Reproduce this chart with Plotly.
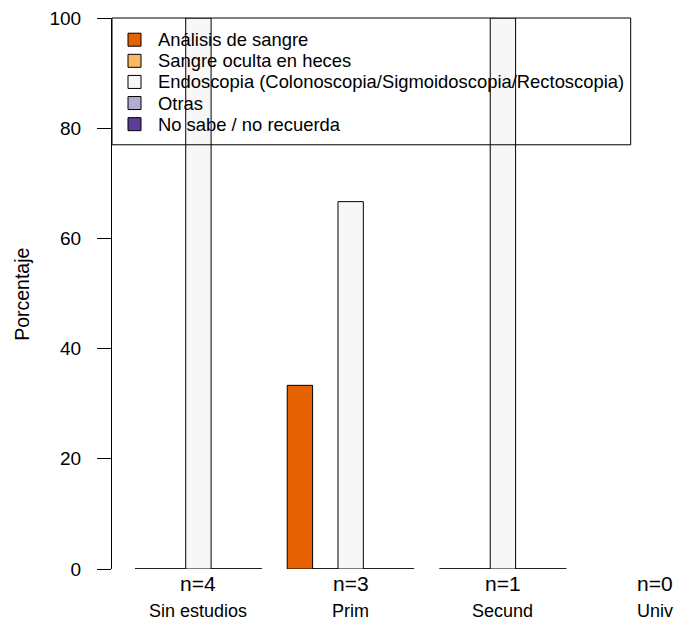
import plotly.graph_objects as go

# ---------------- data ----------------
groups = ["Sin estudios", "Prim", "Secund", "Univ"]
n_counts = [4, 3, 1, 0]
series_names = [
    "Análisis de sangre",
    "Sangre oculta en heces",
    "Endoscopia (Colonoscopia/Sigmoidoscopia/Rectoscopia)",
    "Otras",
    "No sabe / no recuerda",
]
analisis = [0, 33.33, 0, None]
sangre_oculta = [0, 0, 0, None]
endoscopia = [100, 66.67, 100, None]
otras = [0, 0, 0, None]
no_sabe = [0, 0, 0, None]
series_values = [analisis, sangre_oculta, endoscopia, otras, no_sabe]
colors = ["#E66101", "#FDB863", "#F7F7F7", "#B2ABD2", "#5E3C99"]
y_ticks = [0, 20, 40, 60, 80, 100]

# ---------------- geometry ----------------
W, H = 677, 624
ML, MR, MT, MB = 112, 0, 18.3, 55
PW = W - ML - MR
PH = H - MT - MB
UNIT = 25.375          # pixels per bar width
U0 = 109.6             # pixel of x = 0
FONT = "Liberation Sans, Arial, Helvetica, sans-serif"
nser = len(series_names)
group_span = nser + 1


def px_x(p):
    return (p - ML) / PW


def px_y(p):
    return (H - MB - p) / PH


def bar_center(g, i):
    return 1 + group_span * g + i + 0.5


fig = go.Figure()

# bars
for i, (name, vals, col) in enumerate(zip(series_names, series_values, colors)):
    fig.add_trace(go.Bar(
        x=[bar_center(g, i) for g in range(len(groups))],
        y=vals,
        width=1,
        name=name,
        marker=dict(color=col, line=dict(color="black", width=1)),
        showlegend=False,
    ))

# zero-height bars drawn as their outline on the baseline
zx, zy = [], []
for i, vals in enumerate(series_values):
    for g, v in enumerate(vals):
        if v == 0:
            c = bar_center(g, i)
            zx += [c - 0.5, c + 0.5, None]
            zy += [0, 0, None]
fig.add_trace(go.Scatter(x=zx, y=zy, mode="lines",
                         line=dict(color="black", width=1),
                         showlegend=False, hoverinfo="skip", cliponaxis=False))

annotations = []
shapes = []

# group labels
for g, (name, n) in enumerate(zip(groups, n_counts)):
    cx = 1 + group_span * g + nser / 2
    annotations.append(dict(x=cx, y=0, xref="x", yref="paper", text=f"n={n}",
                            showarrow=False, yanchor="middle", yshift=-14.5,
                            font=dict(size=21, family=FONT, color="black")))
    annotations.append(dict(x=cx, y=0, xref="x", yref="paper", text=name,
                            showarrow=False, yanchor="middle", yshift=-42,
                            font=dict(size=18, family=FONT, color="black")))

# y title
annotations.append(dict(x=px_x(22), y=px_y(295), xref="paper", yref="paper",
                        text="Porcentaje", textangle=-90, showarrow=False,
                        xanchor="center", yanchor="middle",
                        font=dict(size=19.5, family=FONT, color="black")))

# legend box
shapes.append(dict(type="rect", xref="paper", yref="paper",
                   x0=px_x(112), x1=px_x(630.7), y0=px_y(145), y1=px_y(18.3),
                   line=dict(color="black", width=1), fillcolor="rgba(0,0,0,0)",
                   layer="above"))
row0, row_step = 40, 21.1
for i, (name, col) in enumerate(zip(series_names, colors)):
    yc = row0 + i * row_step
    shapes.append(dict(type="rect", xref="paper", yref="paper",
                       x0=px_x(128), x1=px_x(141), y0=px_y(yc + 6.5), y1=px_y(yc - 6.5),
                       line=dict(color="black", width=1), fillcolor=col, layer="above"))
    annotations.append(dict(x=px_x(156), y=px_y(yc), xref="paper", yref="paper",
                            text=name, showarrow=False, xanchor="left", yanchor="middle",
                            font=dict(size=18.4, family=FONT, color="black")))

fig.update_layout(
    width=W, height=H,
    margin=dict(l=ML, r=MR, t=MT, b=MB, pad=0),
    paper_bgcolor="white", plot_bgcolor="white",
    barmode="overlay",
    showlegend=False,
    font=dict(family=FONT, color="black"),
    xaxis=dict(range=[(ML - U0) / UNIT, (W - U0) / UNIT], visible=False),
    yaxis=dict(range=[0, 100], tickvals=y_ticks, ticktext=[str(t) for t in y_ticks],
               showline=True, linecolor="black", linewidth=1,
               ticks="outside", ticklen=14, tickwidth=1, tickcolor="black",
               showgrid=False, zeroline=False, ticklabelstandoff=12,
               tickfont=dict(size=19, family=FONT, color="black")),
    annotations=annotations,
    shapes=shapes,
)

fig.write_html(
    "out.html",
    config={"displayModeBar": False},
    post_script="document.body.style.margin='0';document.body.style.overflow='hidden';",
)
